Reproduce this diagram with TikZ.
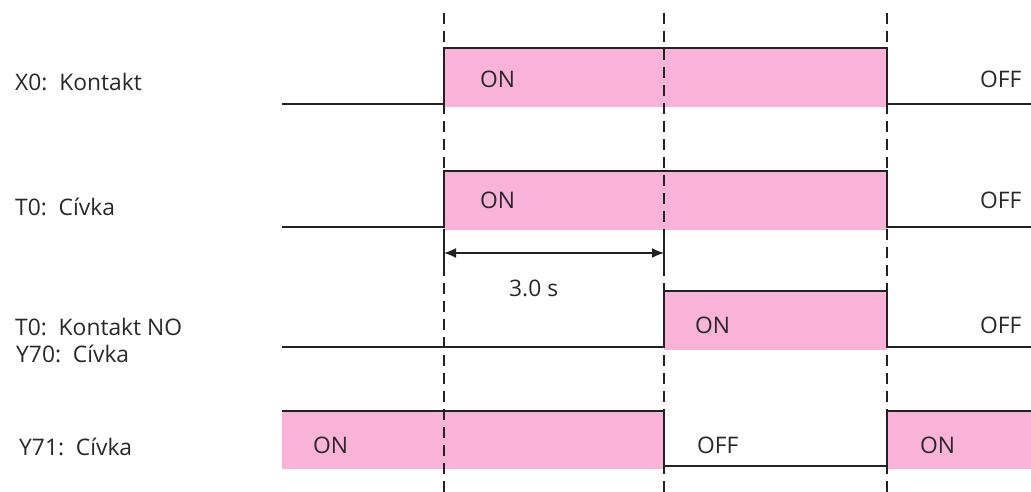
\documentclass[tikz,border=0pt]{standalone}
\usepackage{fontspec}
\setmainfont{Open Sans}
\usetikzlibrary{arrows.meta}
\definecolor{pinkfill}{RGB}{249,178,216}
\definecolor{wave}{RGB}{34,34,34}
\definecolor{txt}{RGB}{40,40,40}
\begin{document}
\begin{tikzpicture}[x=1pt,y=-1pt,
  lbl/.style={anchor=base west, inner sep=0pt, text=txt, font=\fontsize{22.8}{27}\selectfont},
  state/.style={anchor=base west, inner sep=0pt, text=txt, font=\fontsize{22.8}{27}\selectfont},
  sig/.style={draw=wave, line width=1.5pt, line join=miter},
  guide/.style={draw=wave, line width=1.4pt, dash pattern=on 11pt off 7pt},
  tick/.style={draw=wave, line width=1.4pt},
  span/.style={draw=wave, line width=1.4pt, {Latex[length=12pt,width=10pt]}-{Latex[length=12pt,width=10pt]}}
]
\useasboundingbox (0,0) rectangle (1031,492);
% ON areas
\fill[pinkfill] (444,48) rectangle (887,107);
\fill[pinkfill] (444,171) rectangle (887,230);
\fill[pinkfill] (664,291) rectangle (887,350);
\fill[pinkfill] (282,411) rectangle (664,469);
\fill[pinkfill] (887,411) rectangle (1031,469);
% time guides
\draw[guide] (444,13) -- (444,492);
\draw[guide] (664,13) -- (664,492);
\draw[guide] (887,13) -- (887,492);
% signals
\draw[sig] (282,104) -- (444,104) -- (444,48) -- (887,48) -- (887,104) -- (1031,104);
\draw[sig] (282,227) -- (444,227) -- (444,171) -- (887,171) -- (887,227) -- (1031,227);
\draw[sig] (282,347) -- (664,347) -- (664,291) -- (887,291) -- (887,347) -- (1031,347);
\draw[sig] (282,411) -- (664,411) -- (664,466) -- (887,466) -- (887,411) -- (1031,411);
% delay
\coordinate (d0) at (444,253);
\coordinate (d1) at (664,253);
\draw[tick] (444,234) -- (444,266);
\draw[tick] (664,234) -- (664,266);
\draw[span] (d0) -- (d1);
\node[state] (delay) at (509,296) {3.0 s};
% row labels
\node[lbl] (l1) at (15,91) {X0:\ \ Kontakt};
\node[lbl] (l2) at (15,215) {T0:\ \ Cívka};
\node[lbl] (l3) at (15,335) {T0:\ \ Kontakt NO};
\node[lbl] (l4) at (16,362) {Y70:\ \ Cívka};
\node[lbl] (l5) at (19,455) {Y71:\ \ Cívka};
% states
\node[state] (s1a) at (480,88) {ON};
\node[state] (s1b) at (980,88) {OFF};
\node[state] (s2a) at (480,208) {ON};
\node[state] (s2b) at (980,208) {OFF};
\node[state] (s3a) at (695,333) {ON};
\node[state] (s3b) at (980,333) {OFF};
\node[state] (s4a) at (313,453) {ON};
\node[state] (s4b) at (697,453) {OFF};
\node[state] (s4c) at (920,453) {ON};
\end{tikzpicture}
\end{document}
